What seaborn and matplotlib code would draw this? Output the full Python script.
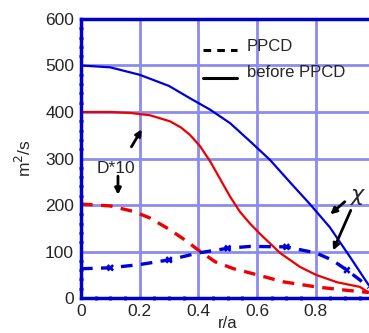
import numpy as np
import pandas as pd
import matplotlib
matplotlib.use('Agg')
import matplotlib.pyplot as plt
import seaborn as sns
from matplotlib.ticker import MultipleLocator

# chi before PPCD (solid blue)
r_chi_before = [0.0, 0.1, 0.2, 0.3, 0.37, 0.44, 0.508, 0.576, 0.644, 0.712, 0.78, 0.848, 0.917, 0.98]
chi_before = [500, 496, 480, 456, 430, 405, 376, 337, 297, 249, 202, 152, 88, 28]

# D*10 before PPCD (solid red)
r_d_before = [0.0, 0.1, 0.167, 0.235, 0.303, 0.34, 0.371, 0.405, 0.44, 0.474, 0.508, 0.542,
              0.576, 0.61, 0.678, 0.746, 0.8, 0.872, 0.95, 0.98]
d_before = [400, 400, 398, 393, 380, 367, 351, 327, 294, 256, 218, 185, 160, 138, 97, 67, 50,
            34, 24, 12]

# D*10 PPCD (dashed red)
r_d_ppcd = [0.0, 0.1, 0.18, 0.235, 0.3, 0.354, 0.4, 0.457, 0.52, 0.576, 0.688, 0.8, 0.9, 0.98]
d_ppcd = [202, 198, 186, 172, 148, 125, 103, 78, 63, 54, 35, 24, 17, 12]

# chi PPCD (dashed blue, with markers)
r_chi_ppcd = [0.0, 0.1, 0.2, 0.3, 0.354, 0.4, 0.5, 0.576, 0.7, 0.8, 0.855, 0.906, 0.95, 0.98]
chi_ppcd = [63, 65, 72, 82, 90, 97, 107, 111, 110, 97, 82, 60, 39, 22]
r_markers = [0.1, 0.3, 0.5, 0.7, 0.906]
chi_markers = [65, 82, 107, 110, 60]

sns.set_style('white')
plt.rcParams['font.family'] = ['Liberation Sans', 'DejaVu Sans']

fig = plt.figure(figsize=(3.69, 3.33), dpi=100)
ax = fig.add_axes([0.2195, 0.105, 0.7954, 0.838])

grid_c = '#8c8cf0'
spine_c = '#0000cc'

sns.lineplot(x=r_chi_before, y=chi_before, ax=ax, color='#0000dd', lw=1.6)
sns.lineplot(x=r_d_before, y=d_before, ax=ax, color='#ee0000', lw=1.6)
sns.lineplot(x=r_d_ppcd, y=d_ppcd, ax=ax, color='#ee0000', lw=2.4, linestyle=(0, (3.5, 2.5)))
sns.lineplot(x=r_chi_ppcd, y=chi_ppcd, ax=ax, color='#0000dd', lw=2.4, linestyle=(0, (3.5, 2.5)))
sns.scatterplot(x=r_markers, y=chi_markers, ax=ax, color='#0000dd', marker='X', s=28,
                edgecolor='none', zorder=5)

ax.set_xlim(0, 1.0)
ax.set_ylim(0, 600)
ax.yaxis.set_major_locator(MultipleLocator(100))
ax.xaxis.set_minor_locator(MultipleLocator(0.05))
ax.yaxis.set_minor_locator(MultipleLocator(20))
ax.set_xticks([0, 0.2, 0.4, 0.6, 0.8])
ax.set_xticklabels(['0', '0.2', '0.4', '0.6', '0.8'])
ax.grid(True, which='major', color=grid_c, lw=2)
ax.set_axisbelow(True)
for s in ax.spines.values():
    s.set_color(spine_c)
    s.set_linewidth(2.5)
ax.spines['right'].set_visible(False)
ax.tick_params(which='major', direction='inout', length=6, width=2, color=spine_c,
               labelsize=12.5, pad=2)
ax.tick_params(axis='x', which='major', pad=1)
ax.tick_params(which='minor', direction='inout', length=3, width=2, color=spine_c)
ax.tick_params(axis='x', which='minor', bottom=True)
ax.tick_params(axis='y', which='minor', left=True)

ax.set_xlabel('r/a', fontsize=12, labelpad=-2)
ax.set_ylabel('m$^2$/s', fontsize=12.5, labelpad=8)

# legend drawn by hand
ax.plot([0.416, 0.532], [533, 533], color='black', lw=2.2, linestyle=(0, (2.5, 2)))
ax.plot([0.416, 0.532], [473, 473], color='black', lw=2.2)
ax.text(0.566, 540, 'PPCD', fontsize=12, va='center')
ax.text(0.566, 484, 'before PPCD', fontsize=12, va='center')

# annotations
arrow = dict(arrowstyle='-|>', color='black', lw=2, mutation_scale=9)
ax.text(0.12, 279, 'D*10', fontsize=12.5, ha='center', va='center')
ax.annotate('', xy=(0.212, 368), xytext=(0.167, 320), arrowprops=arrow)
ax.annotate('', xy=(0.126, 216), xytext=(0.126, 268), arrowprops=arrow)
ax.text(0.945, 218, r'$\chi$', fontsize=16, ha='center', va='center')
ax.annotate('', xy=(0.842, 176), xytext=(0.906, 211), arrowprops=arrow)
ax.annotate('', xy=(0.855, 97), xytext=(0.923, 194), arrowprops=arrow)

fig.savefig('out.png', dpi=100)
